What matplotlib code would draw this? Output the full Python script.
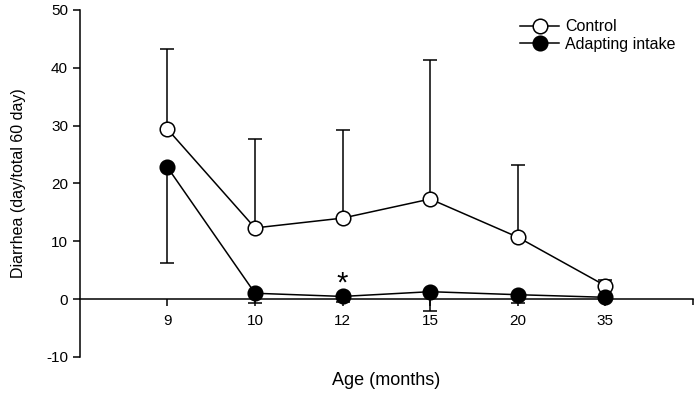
import numpy as np
import matplotlib
matplotlib.use("Agg")
import matplotlib.pyplot as plt

plt.rcParams['font.family'] = ['Liberation Sans', 'DejaVu Sans']
plt.rcParams['axes.unicode_minus'] = False

ages = ['9', '10', '12', '15', '20', '35']
control = [29.4, 12.3, 14.0, 17.3, 10.7, 2.3]
control_err = [13.8, 15.3, 15.3, 24.0, 12.4, 1.0]
adapting = [22.8, 1.0, 0.45, 1.27, 0.75, 0.3]
adapting_err = [16.6, 1.6, 0.9, 3.3, 1.5, 0.5]

x = np.arange(1, len(ages) + 1)

fig = plt.figure(figsize=(7, 3.93), dpi=100)
ax = fig.add_axes([0.114, 0.092, 0.876, 0.8826])

ax.errorbar(x, control, yerr=[np.zeros(len(x)), control_err], fmt='none',
            ecolor='black', elinewidth=1.1, capsize=5, capthick=1.1, zorder=2)
ax.errorbar(x, adapting, yerr=[adapting_err, np.zeros(len(x))], fmt='none',
            ecolor='black', elinewidth=1.1, capsize=5, capthick=1.1, zorder=2)
ax.plot(x, control, '-o', color='black', lw=1.1, mfc='white', mec='black',
        mew=1.1, ms=10.5, label='Control', zorder=4)
ax.plot(x, adapting, '-o', color='black', lw=1.1, mfc='black', mec='black',
        mew=1.1, ms=10.5, label='Adapting intake', zorder=5)

# significance mark
ax.text(3, 1.3, '*', ha='center', va='baseline', fontsize=21)

ax.set_xlim(0, 7)
ax.set_ylim(-10, 50)
ax.set_yticks(range(-10, 51, 10))
ax.set_xticks(x)
ax.set_xticklabels(ages)
ax.set_xticks([7], minor=True)
ax.tick_params(axis='x', which='minor', length=4, width=1.1)

ax.spines['top'].set_visible(False)
ax.spines['right'].set_visible(False)
ax.spines['bottom'].set_position(('data', 0))
ax.spines['left'].set_linewidth(1.1)
ax.spines['bottom'].set_linewidth(1.1)
ax.tick_params(axis='both', length=5, width=1.1, labelsize=11)
ax.tick_params(axis='x', pad=6)

ax.set_ylabel('Diarrhea (day/total 60 day)', fontsize=11.5)
ax.yaxis.set_label_coords(-0.087, 0.5)
ax.set_xlabel('Age (months)', fontsize=13, labelpad=0)
ax.xaxis.set_label_coords(0.5, -0.045)

ax.legend(loc='upper right', bbox_to_anchor=(0.995, 1.015), frameon=False,
          fontsize=11.5, handlelength=2.4, handletextpad=0.4, labelspacing=0.15)

fig.savefig('out.png', dpi=100)
